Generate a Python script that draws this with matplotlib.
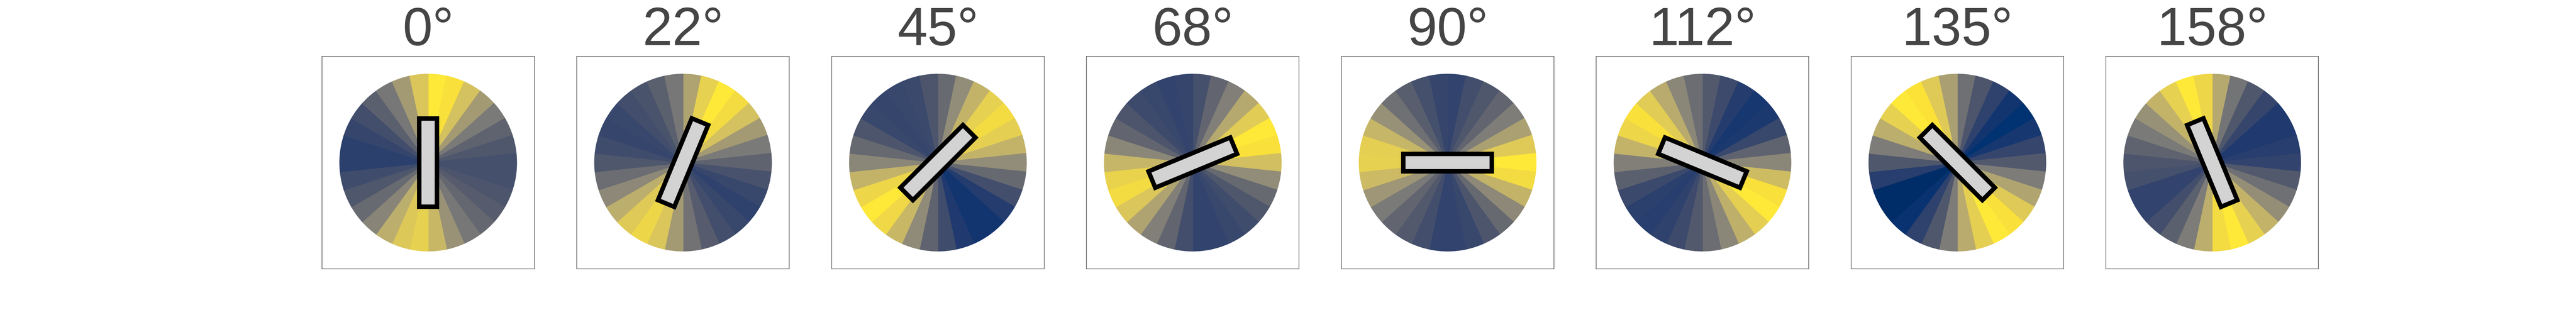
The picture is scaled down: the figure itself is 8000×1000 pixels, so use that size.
import numpy as np
import matplotlib
matplotlib.use('Agg')
import matplotlib.pyplot as plt
from matplotlib.patches import Rectangle

plt.rcParams['font.family'] = ['Liberation Sans', 'DejaVu Sans']

# bar orientation per panel (degrees clockwise from vertical) and titles
orientations = [0, 22.5, 45, 67.5, 90, 112.5, 135, 157.5]
titles = ['0°', '22°', '45°', '68°', '90°', '112°', '135°', '158°']

# response per direction, 30 sectors of 12 deg, clockwise from the top
resp_0 = [1.0, 0.97, 0.84, 0.66, 0.49, 0.37, 0.30, 0.26, 0.26, 0.29,
          0.33, 0.39, 0.48, 0.62, 0.80, 0.91, 0.87, 0.75, 0.55, 0.41,
          0.30, 0.24, 0.17, 0.17, 0.20, 0.25, 0.35, 0.48, 0.66, 0.86]
resp_22 = [0.70, 0.91, 1.0, 0.95, 0.84, 0.66, 0.49, 0.37, 0.27, 0.21,
           0.18, 0.21, 0.25, 0.33, 0.45, 0.66, 0.86, 0.93, 0.88, 0.75,
           0.57, 0.42, 0.30, 0.24, 0.20, 0.21, 0.25, 0.28, 0.35, 0.48]
resp_45 = [0.41, 0.59, 0.78, 0.91, 0.95, 0.90, 0.78, 0.59, 0.40, 0.25,
           0.15, 0.11, 0.11, 0.14, 0.24, 0.37, 0.58, 0.80, 0.94, 1.0,
           0.93, 0.78, 0.56, 0.40, 0.29, 0.21, 0.20, 0.21, 0.22, 0.29]
resp_68 = [0.26, 0.38, 0.52, 0.73, 0.89, 1.0, 0.97, 0.83, 0.59, 0.40,
           0.30, 0.24, 0.21, 0.19, 0.19, 0.25, 0.38, 0.52, 0.70, 0.86,
           0.95, 0.92, 0.79, 0.56, 0.38, 0.29, 0.23, 0.21, 0.19, 0.20]
resp_90 = [0.19, 0.25, 0.30, 0.38, 0.51, 0.69, 0.88, 1.0, 0.95, 0.78,
           0.57, 0.40, 0.29, 0.21, 0.19, 0.19, 0.25, 0.31, 0.38, 0.49,
           0.64, 0.81, 0.91, 0.90, 0.79, 0.61, 0.44, 0.34, 0.26, 0.20]
resp_112 = [0.31, 0.23, 0.15, 0.12, 0.13, 0.21, 0.37, 0.56, 0.82, 0.97,
            1.0, 0.90, 0.76, 0.56, 0.42, 0.31, 0.23, 0.18, 0.16, 0.17,
            0.22, 0.35, 0.52, 0.78, 0.93, 0.97, 0.89, 0.74, 0.56, 0.42]
resp_135 = [0.44, 0.29, 0.18, 0.11, 0.09, 0.12, 0.20, 0.31, 0.50, 0.71,
            0.88, 0.97, 1.0, 0.90, 0.74, 0.50, 0.30, 0.18, 0.10, 0.06,
            0.06, 0.16, 0.30, 0.50, 0.75, 0.91, 1.0, 0.98, 0.88, 0.68]
resp_158 = [0.73, 0.46, 0.30, 0.20, 0.14, 0.14, 0.16, 0.19, 0.31, 0.44,
            0.60, 0.78, 0.91, 1.0, 0.95, 0.75, 0.50, 0.35, 0.25, 0.19,
            0.19, 0.26, 0.29, 0.37, 0.49, 0.61, 0.78, 0.91, 1.0, 0.93]

responses = [resp_0, resp_22, resp_45, resp_68, resp_90, resp_112, resp_135, resp_158]

cmap = plt.get_cmap('cividis')

fig, axes = plt.subplots(1, 8, figsize=(16, 2))

for ax, ori, title, resp in zip(axes, orientations, titles, responses):
    resp = np.array(resp)
    wedges, _ = ax.pie(np.ones(len(resp)), colors=cmap(resp), startangle=90,
                       counterclock=False, radius=1, frame=True)
    for w in wedges:
        # same colour on the edge so no seams show between sectors
        w.set_edgecolor(w.get_facecolor())
        w.set_linewidth(0.3)
    # the bar stimulus
    bar = Rectangle((-0.1, -0.5), 0.2, 1.0, angle=-ori, rotation_point='center',
                    facecolor='lightgray', edgecolor='black', linewidth=2, zorder=5)
    ax.add_patch(bar)
    ax.set_xlim(-1.2, 1.2)
    ax.set_ylim(-1.2, 1.2)
    ax.set_aspect('equal')
    ax.set_xticks([])
    ax.set_yticks([])
    for s in ax.spines.values():
        s.set_linewidth(0.3)
        s.set_color('0.4')
    ax.set_title(title, fontsize=24, color='0.27', pad=4.5)

plt.savefig('out.png', dpi=500)
